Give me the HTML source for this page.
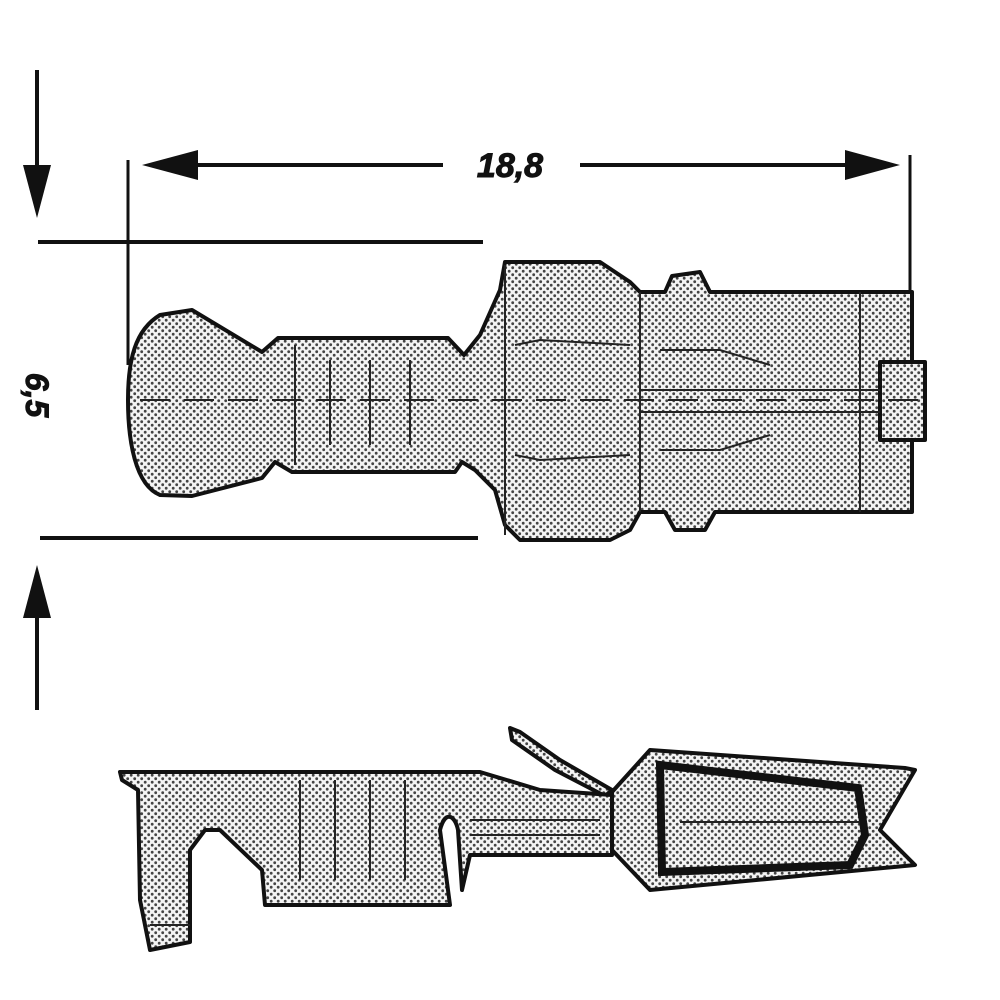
<!DOCTYPE html>
<html><head><style>html,body{margin:0;padding:0;background:#fff}svg{display:block}</style></head>
<body>
<svg width="1000" height="1000" viewBox="0 0 1000 1000" xmlns="http://www.w3.org/2000/svg">
<defs>
<pattern id="d" width="7" height="7" patternUnits="userSpaceOnUse">
<rect width="7" height="7" fill="#f4f4f4"/>
<circle cx="1.7" cy="1.7" r="1.4" fill="#444"/>
<circle cx="5.2" cy="5.2" r="1.4" fill="#444"/>
</pattern>
</defs>
<g stroke="#111" fill="none" stroke-width="4">
<line x1="37" y1="70" x2="37" y2="170"/>
<line x1="37" y1="610" x2="37" y2="710"/>
<line x1="38" y1="242" x2="483" y2="242"/>
<line x1="40" y1="538" x2="478" y2="538"/>
<line x1="128" y1="160" x2="128" y2="365" stroke-width="3"/>
<line x1="910" y1="155" x2="910" y2="290" stroke-width="3"/>
<line x1="190" y1="165" x2="443" y2="165"/>
<line x1="580" y1="165" x2="855" y2="165"/>
</g>
<g fill="#111">
<polygon points="23,165 51,165 37,218"/>
<polygon points="23,618 51,618 37,565"/>
<polygon points="142,165 198,150 198,180"/>
<polygon points="900,165 845,150 845,180"/>
</g>
<text x="510" y="177" font-family="Liberation Sans,sans-serif" font-weight="bold" font-style="italic" font-size="34" text-anchor="middle" fill="#111" stroke="#111" stroke-width="1">18,8</text>
<text transform="translate(26,395) rotate(90)" font-family="Liberation Sans,sans-serif" font-weight="bold" font-style="italic" font-size="32" text-anchor="middle" fill="#111" stroke="#111" stroke-width="1">6,5</text>

<!-- top view -->
<g stroke="#111" stroke-width="4" fill="url(#d)" stroke-linejoin="round">
<path d="M128,400 C128,360 135,330 160,315 L192,310 L262,352 L278,338 L448,338 L464,355 L480,335 L500,290 L505,262 L600,262 L630,282 L640,292 L665,292 L672,276 L700,272 L710,292 L912,292 L912,512 L715,512 L705,530 L675,530 L665,512 L640,512 L630,530 L610,540 L520,540 L505,525 L495,490 L475,470 L462,462 L455,472 L292,472 L275,462 L262,478 L192,496 L160,495 C135,485 128,440 128,400 Z"/>
<rect x="880" y="362" width="45" height="78"/>
</g>
<g stroke="#222" stroke-width="2" fill="none">
<path d="M140,400 H930" stroke-dasharray="30,14"/>
<line x1="640" y1="390" x2="880" y2="390"/><line x1="640" y1="412" x2="880" y2="412"/>
<line x1="505" y1="265" x2="505" y2="535"/><line x1="640" y1="292" x2="640" y2="512"/>
<line x1="295" y1="345" x2="295" y2="465"/><line x1="330" y1="360" x2="330" y2="445"/>
<line x1="370" y1="360" x2="370" y2="445"/><line x1="410" y1="360" x2="410" y2="445"/>
<line x1="860" y1="292" x2="860" y2="512"/>
<path d="M515,345 L540,340 L630,345 M515,455 L540,460 L630,455 M660,350 L720,350 L770,365 M660,450 L720,450 L770,435"/>
</g>

<!-- side view -->
<g stroke="#111" stroke-width="4" fill="url(#d)" stroke-linejoin="round">
<path d="M510,728 L520,732 L560,760 L612,790 L605,796 L555,770 L512,740 Z"/>
<path d="M120,772 L480,772 L540,790 L612,795 L612,855 L470,855 L462,890 L458,830 C455,815 445,810 440,830 L450,905 L265,905 L262,870 L220,830 L205,830 L190,850 L190,942 L150,950 L140,900 L138,790 L122,780 Z"/>
<path d="M612,792 L650,750 L905,768 L915,770 L880,830 L915,865 L650,890 L612,850 Z"/>
</g>
<path d="M660,765 L858,788 L865,835 L850,865 L662,872 Z" fill="url(#d)" stroke="#111" stroke-width="8"/>
<g stroke="#222" stroke-width="2" fill="none">
<line x1="470" y1="820" x2="600" y2="820"/><line x1="470" y1="835" x2="600" y2="835"/>
<line x1="680" y1="822" x2="860" y2="822"/>
<line x1="300" y1="780" x2="300" y2="880"/><line x1="335" y1="780" x2="335" y2="880"/>
<line x1="370" y1="780" x2="370" y2="880"/><line x1="405" y1="780" x2="405" y2="880"/>
<line x1="150" y1="925" x2="190" y2="925"/>
</g>
</svg>
</body></html>
